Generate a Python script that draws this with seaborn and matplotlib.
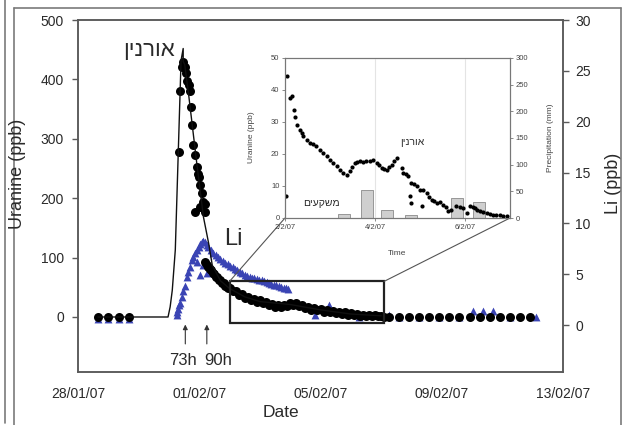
import numpy as np
import pandas as pd
import matplotlib
matplotlib.use("Agg")
import matplotlib.pyplot as plt
import matplotlib.dates as mdates
from matplotlib.ticker import FixedLocator
from matplotlib.patches import Rectangle, ConnectionPatch
from matplotlib.lines import Line2D
import seaborn as sns

sns.set_theme(style="white")
plt.rcParams["font.family"] = ["Liberation Sans", "DejaVu Sans"]

# ---------------------------------------------------------------- data
# time is given in days elapsed since 28/01/07 00:00
START = pd.Timestamp("2007-01-28")

# Uranine tracer (ppb), main panel: background, peak and recession
uranine_days = [
    0.66, 0.99, 1.36, 1.69,
    3.32, 3.37, 3.43, 3.48, 3.52, 3.56, 3.59, 3.65, 3.70, 3.72, 3.76, 3.80,
    3.87, 3.92, 3.96, 3.98, 4.03, 4.09, 4.14, 3.87, 4.03, 4.20, 4.20,
    4.18, 4.25, 4.30, 4.35, 4.40, 4.45, 4.50, 4.55, 4.60, 4.65, 4.70, 4.75,
    4.80, 4.85, 4.90, 4.95, 5.00, 5.10, 5.20, 5.30, 5.40, 5.50, 5.60, 5.70,
    5.80, 5.90, 6.00, 6.10, 6.20, 6.30, 6.40, 6.50, 6.60, 6.70, 6.80, 6.90,
    7.00, 7.10, 7.20, 7.30, 7.40, 7.50, 7.60, 7.70, 7.80, 7.90, 8.00, 8.10,
    8.20, 8.30, 8.40, 8.50, 8.60, 8.70, 8.80, 8.90, 9.00, 9.10, 9.20, 9.30,
    9.40, 9.50, 9.60, 9.70, 9.80, 9.90, 10.00, 10.10,
    10.25, 10.58, 10.92, 11.25, 11.58, 11.92, 12.25, 12.58,
    12.92, 13.25, 13.58, 13.92, 14.25, 14.58, 14.92,
]
uranine_ppb = [
    0, 0, 0, 0,
    278, 381, 421, 430, 421, 410, 398, 390, 381, 353, 323, 289,
    272, 253, 240, 236, 222, 208, 194, 177, 185, 177, 191,
    93, 88, 85, 80, 79, 74, 73, 68, 67, 62, 62, 57,
    57, 52, 53, 48, 49, 43, 43, 37, 38, 32, 34, 28,
    30, 25, 28, 23, 25, 20, 22, 17, 20, 16, 21, 18,
    23, 20, 24, 19, 20, 15, 17, 12, 15, 11, 13, 9,
    11, 8, 10, 6, 8, 5, 8, 4, 6, 3, 5, 2,
    4, 1, 3, 1, 3, 1, 2, 0,
    0, 0, 0, 0, 0, 0, 0, 0,
    0, 0, 0, 0, 0, 0, 0,
]

# Uranine (ppb) for 2/2/07 - 7/2/07, days elapsed since 2/2/07 (inset)
zoom_days = [
    0.03, 0.04, 0.11, 0.15, 0.19, 0.22, 0.26, 0.33, 0.37, 0.41, 0.48, 0.56,
    0.63, 0.70, 0.78, 0.85, 0.93, 1.00, 1.07, 1.15, 1.22, 1.30, 1.37, 1.44,
    1.50, 1.56, 1.61, 1.67, 1.74, 1.81, 1.89, 1.96, 2.04, 2.10, 2.15, 2.20,
    2.26, 2.32, 2.37, 2.42, 2.48, 2.59, 2.63, 2.68, 2.74, 2.78, 2.81, 2.81,
    2.87, 2.93, 3.00, 3.04, 3.07, 3.15, 3.21, 3.26, 3.32, 3.37, 3.44, 3.52,
    3.58, 3.63, 3.70, 3.81, 3.89, 3.96, 4.04, 4.11, 4.17, 4.22, 4.27, 4.33,
    4.41, 4.48, 4.56, 4.63, 4.70, 4.78, 4.85, 4.93,
]
zoom_ppb = [
    6.8, 44.3, 37.5, 38.0, 33.9, 31.5, 29.2, 27.6, 26.5, 25.5, 24.5, 23.4,
    23.0, 22.4, 21.3, 20.3, 19.3, 18.2, 17.2, 16.1, 15.1, 14.1, 13.5, 14.6,
    16.0, 17.2, 17.5, 17.7, 17.5, 17.7, 17.9, 18.2, 17.2, 16.5, 15.6, 15.3,
    15.1, 15.8, 16.7, 17.8, 18.7, 15.6, 14.1, 13.8, 13.0, 6.8, 10.9, 4.7,
    10.5, 9.9, 8.9, 3.6, 8.6, 7.8, 6.6, 5.7, 5.3, 4.7, 5.0, 4.2,
    3.3, 2.1, 2.6, 3.6, 3.5, 3.1, 1.6, 3.6, 3.3, 3.1, 2.6, 2.1,
    1.8, 1.6, 1.2, 1.0, 1.0, 1.0, 0.7, 0.5,
]

# fitted Uranine breakthrough curve (ppb)
model_days = [0.66, 2.97, 3.04, 3.11, 3.21, 3.31, 3.40, 3.47, 3.47, 3.52,
              3.66, 3.92, 4.14, 4.31, 4.43, 4.70, 5.00, 5.50, 6.00, 7.00,
              8.00, 9.00, 10.0]
model_ppb = [0, 0, 17, 45, 113, 281, 432, 452, 430, 425,
             370, 258, 168, 124, 87, 61, 48, 34, 26, 21, 12, 5, 2]

# Lithium (ppb)
li_days = [
    0.66, 0.99, 1.36, 1.69,
    3.26, 3.28, 3.31, 3.34, 3.37, 3.43, 3.47, 3.54, 3.59, 3.64, 3.70, 3.76,
    3.80, 3.87, 3.92, 3.98, 4.03, 4.09, 4.13, 4.20, 4.25,
    4.03, 4.25, 3.92, 4.13,
    4.30, 4.38, 4.46, 4.54, 4.62, 4.70, 4.78, 4.86, 4.94, 5.02, 5.10, 5.18,
    5.26, 5.34, 5.42, 5.50, 5.58, 5.66, 5.74, 5.82, 5.90, 5.98, 6.06, 6.14,
    6.22, 6.30, 6.38, 6.46, 6.54, 6.62, 6.70, 6.78, 6.86, 6.94,
    7.44, 7.83, 8.28, 9.26, 10.27,
    10.58, 11.25, 11.92, 12.58, 13.02, 13.36, 13.69, 14.25, 15.10,
]
li_ppb = [
    0.6, 0.6, 0.6, 0.6,
    1.0, 1.3, 1.6, 2.0, 2.2, 2.8, 3.3, 3.8, 4.75, 5.2, 5.7, 6.4,
    6.7, 7.05, 7.4, 7.7, 8.0, 8.2, 8.3, 8.2, 7.9,
    4.9, 5.1, 6.2, 5.9,
    7.7, 7.4, 7.1, 6.9, 6.7, 6.5, 6.3, 6.1, 6.0, 5.8, 5.7, 5.5,
    5.4, 5.2, 5.1, 4.9, 4.8, 4.7, 4.6, 4.6, 4.5, 4.4, 4.4, 4.3,
    4.2, 4.1, 4.0, 3.9, 3.9, 3.8, 3.7, 3.6, 3.6, 3.5,
    2.0, 1.0, 2.0, 0.8, 1.0,
    0.8, 0.8, 0.8, 0.8, 1.4, 1.4, 1.4, 0.8, 0.8,
]

# daily precipitation (mm), days elapsed since 2/2/07
rain_days = [1.31, 1.82, 2.27, 2.80, 3.83, 4.32]
rain_mm = [7, 52, 15, 6, 37, 30]

main_tick_labels = ["28/01/07", "01/02/07", "05/02/07", "09/02/07", "13/02/07"]
zoom_tick_labels = ["2/2/07", "4/2/07", "6/2/07"]

HEB_URANINE = "אורנין"
HEB_RAIN = "משקעים"


def at(days, origin=START):
    return origin + pd.to_timedelta(np.asarray(days, dtype=float), unit="D")


def visual(s):
    # matplotlib lays glyphs out left to right; Hebrew reads right to left
    return s[::-1]


ZOOM_START = START + pd.Timedelta(days=5)

ura = pd.DataFrame({"time": at(uranine_days), "ppb": uranine_ppb})
zoom = pd.DataFrame({"time": at(zoom_days, ZOOM_START), "ppb": zoom_ppb})
li = pd.DataFrame({"time": at(li_days), "ppb": li_ppb})
model = pd.DataFrame({"time": at(model_days), "ppb": model_ppb})

# ---------------------------------------------------------------- figure
W, H = 624, 425
fig = plt.figure(figsize=(W / 100, H / 100), dpi=100)
fig.patch.set_facecolor("white")


def fx(px):
    return px / W


def fy(py):
    return 1 - py / H


SPINE = "#5a5a5a"
TXT = "#2a2a2a"
BLUE = "#3a44b4"

ax = fig.add_axes([fx(78), fy(372), fx(563) - fx(78), fy(20) - fy(372)])
ax2 = ax.twinx()
ax.set_zorder(2)
ax2.set_zorder(1)
ax.patch.set_visible(False)
ax2.patch.set_visible(True)
ax2.patch.set_facecolor("white")

sns.scatterplot(data=li, x="time", y="ppb", ax=ax2, marker="^", s=32,
                color=BLUE, linewidth=0, legend=False)
sns.lineplot(data=model, x="time", y="ppb", ax=ax, color="#111111", lw=1.0,
             sort=False, estimator=None, legend=False)
sns.scatterplot(data=ura, x="time", y="ppb", ax=ax, s=42, color="black",
                linewidth=0, legend=False)

ax.set_xlim(START, START + pd.Timedelta(days=16))
ax.set_ylim(-92.6, 500)
ax2.set_ylim(-4.62, 30)

ax.xaxis.set_major_locator(FixedLocator(
    mdates.date2num(pd.to_datetime(main_tick_labels, format="%d/%m/%y"))))
ax.xaxis.set_major_formatter(mdates.DateFormatter("%d/%m/%y"))
ax.xaxis.set_minor_locator(mdates.DayLocator())
ax.set_yticks(range(0, 501, 100))
ax2.set_yticks(range(0, 31, 5))

for a in (ax, ax2):
    for sp in a.spines.values():
        sp.set_color(SPINE)
        sp.set_linewidth(1.1)
ax.tick_params(axis="x", which="major", direction="inout", length=6, width=1,
               color=SPINE, pad=8, labelsize=10, labelcolor=TXT)
ax.tick_params(axis="x", which="minor", direction="inout", length=4, width=0.8,
               color=SPINE)
ax.tick_params(axis="y", direction="out", length=4, width=1, color=SPINE,
               pad=6, labelsize=10, labelcolor=TXT, left=True)
ax2.tick_params(axis="y", direction="out", length=4, width=1, color=SPINE,
                pad=5, labelsize=10, labelcolor=TXT, right=True)

ax.set_xlabel("Date", fontsize=12.5, color=TXT)
ax.xaxis.set_label_coords(0.419, -0.094)
ax.set_ylabel("Uranine (ppb)", fontsize=13, color=TXT)
ax.yaxis.set_label_coords(-0.108, 0.5625)
ax2.set_ylabel("Li (ppb)", fontsize=13, color=TXT, rotation=90)
ax2.yaxis.set_label_coords(1.086, 0.537)

# annotations on the main panel
ax.text(at([2.33])[0], 449, visual(HEB_URANINE), fontsize=16, color=TXT,
        ha="center", va="center")
ax.text(at([5.12])[0], 132, "Li", fontsize=17, color=TXT, ha="center",
        va="center")
for d, lab, tx in ((3.54, "73h", 3.45), (4.25, "90h", 4.61)):
    ax.annotate("", xy=(at([d])[0], -8), xytext=(at([d])[0], -50),
                arrowprops=dict(arrowstyle="-|>", color="#333333", lw=0.8,
                                mutation_scale=7))
    ax.text(at([tx])[0], -74, lab, fontsize=12, color=TXT, ha="center",
            va="center")

# zoom window on the tail
x0 = mdates.date2num(ZOOM_START)
x1 = mdates.date2num(ZOOM_START + pd.Timedelta(days=5.1))
ax.add_patch(Rectangle((x0, -10), x1 - x0, 70, fill=False, lw=1.6,
                       ec="#222222", zorder=5))

# ---------------------------------------------------------------- inset
axin = fig.add_axes([fx(285), fy(218), fx(510) - fx(285), fy(58) - fy(218)])
axin_r = axin.twinx()
axin_r.set_zorder(5)
axin.set_zorder(6)
axin.patch.set_visible(False)
axin_r.patch.set_visible(True)
axin_r.patch.set_facecolor("white")

axin_r.bar(at(rain_days, ZOOM_START), rain_mm, width=0.27, color="#cfcfcf",
           edgecolor="#8a8a8a", linewidth=0.6)
sns.scatterplot(data=zoom, x="time", y="ppb", ax=axin, s=9, color="black",
                linewidth=0, legend=False)

axin.set_xlim(ZOOM_START, ZOOM_START + pd.Timedelta(days=5))
axin.set_ylim(0, 50)
axin_r.set_ylim(0, 300)
axin.set_xticks(mdates.date2num(pd.to_datetime(zoom_tick_labels,
                                               format="%d/%m/%y")))
axin.set_xticklabels(zoom_tick_labels)
axin.set_yticks(range(0, 51, 10))
axin_r.set_yticks(range(0, 301, 50))
axin_r.grid(False)
axin.grid(axis="x", color="#e4e4e4", lw=0.8)
axin.grid(axis="y", visible=False)
for a in (axin, axin_r):
    for sp in a.spines.values():
        sp.set_color("#777777")
        sp.set_linewidth(0.8)
axin.tick_params(axis="both", direction="out", length=2, width=0.6,
                 color="#777777", labelsize=5.5, labelcolor="#444444", pad=2,
                 left=True, bottom=True)
axin_r.tick_params(axis="y", direction="out", length=2, width=0.6,
                   color="#777777", labelsize=5.5, labelcolor="#444444", pad=2,
                   right=True)
axin.set_xlabel("Time", fontsize=6, color="#444444")
axin.xaxis.set_label_coords(0.498, -0.2)
axin.set_ylabel("Uranine (ppb)", fontsize=6, color="#444444")
axin.yaxis.set_label_coords(-0.135, 0.506)
axin_r.set_ylabel("Precipitation (mm)", fontsize=6, color="#444444")
axin_r.yaxis.set_label_coords(1.165, 0.5)
axin.text(at([2.83], ZOOM_START)[0], 23.7, visual(HEB_URANINE), fontsize=7.5,
          color=TXT, ha="center", va="center")
axin.text(at([0.82], ZOOM_START)[0], 4.6, visual(HEB_RAIN), fontsize=7.5,
          color=TXT, ha="center", va="center")

# leader lines from the zoom window to the inset
for xa, xb in ((x0, 0), (x1, 1)):
    con = ConnectionPatch(xyA=(xa, 60), coordsA=ax.transData,
                          xyB=(xb, 0), coordsB=axin.transAxes,
                          color="#555555", lw=0.8)
    con.set_zorder(4)
    fig.add_artist(con)

# page frame
frame = dict(color="#7a7a7a", lw=1.2, transform=fig.transFigure)
fig.add_artist(Line2D([fx(4.5), fx(4.5)], [fy(0), fy(423)], **frame))
fig.add_artist(Line2D([fx(13.5), fx(13.5)], [fy(7.5), fy(425)], **frame))
fig.add_artist(Line2D([fx(13.5), fx(621)], [fy(7.5), fy(7.5)], **frame))
fig.add_artist(Line2D([fx(621), fx(621)], [fy(7.5), fy(425)], **frame))

fig.savefig("out.png", dpi=100, facecolor="white")
